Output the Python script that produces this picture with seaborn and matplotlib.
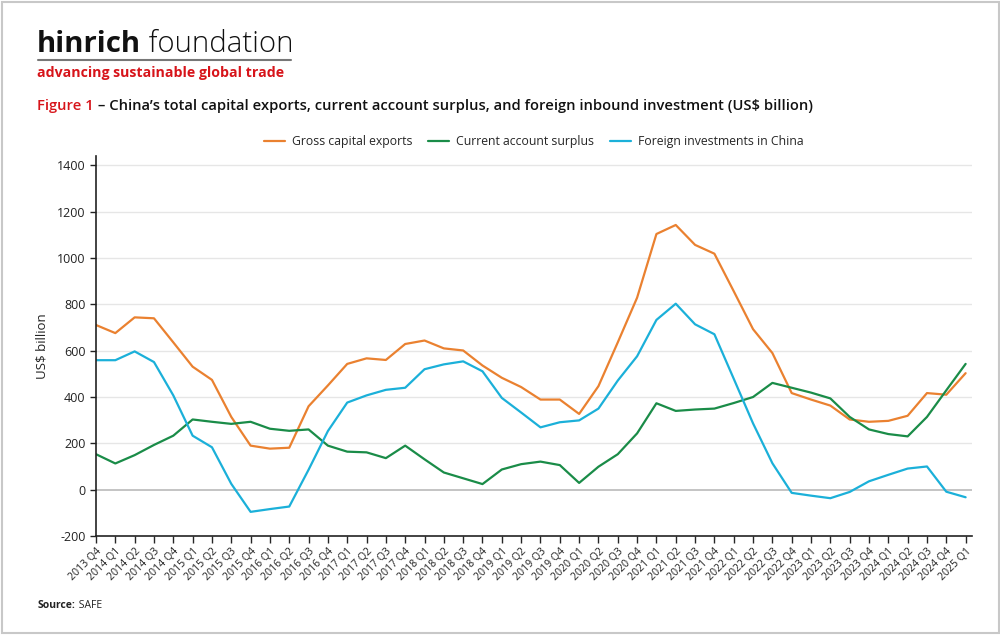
import matplotlib
matplotlib.use("Agg")
import matplotlib.pyplot as plt
import seaborn as sns
import pandas as pd
import numpy as np
from matplotlib.lines import Line2D

quarters = ["2013 Q4"] + [f"{y} Q{q}" for y in range(2014, 2025) for q in range(1, 5)] + ["2025 Q1"]

gross_capital_exports = [711, 676, 744, 740, 636, 531, 474, 314, 190, 177, 181, 360, 450,
                         543, 567, 560, 629, 644, 610, 601, 536, 483, 443, 389, 389, 327,
                         447, 636, 829, 1104, 1143, 1057, 1019, 857, 693, 590, 417, 389,
                         363, 303, 293, 297, 319, 417, 410, 503]
current_account_surplus = [153, 113, 149, 193, 233, 303, 293, 284, 293, 263, 254, 260, 190,
                           164, 161, 136, 190, 131, 74, 49, 24, 87, 110, 121, 106, 29,
                           99, 153, 243, 373, 340, 346, 350, 374, 400, 461, 440, 419,
                           394, 314, 260, 240, 230, 314, 429, 543]
foreign_investments = [559, 559, 597, 551, 407, 233, 183, 25, -96, -84, -73, 86, 253,
                       376, 407, 431, 440, 520, 541, 554, 511, 396, 333, 269, 291, 299,
                       350, 471, 576, 733, 803, 714, 671, 479, 286, 114, -14, -26,
                       -37, -10, 36, 64, 91, 100, -9, -33]

series_names = ["Gross capital exports", "Current account surplus", "Foreign investments in China"]
colors = ["#ea8130", "#1a8c48", "#1bb0d9"]

df = pd.concat([
    pd.DataFrame({"idx": np.arange(len(quarters)), "value": vals, "series": name})
    for name, vals in zip(series_names, [gross_capital_exports, current_account_surplus, foreign_investments])
])

sns.set_theme(style="white")
plt.rcParams["font.family"] = ["Open Sans", "DejaVu Sans"]
plt.rcParams["axes.unicode_minus"] = False

fig = plt.figure(figsize=(10, 6.35), dpi=100)
ax = fig.add_axes([0.096, 0.156, 0.876, 0.598])

sns.lineplot(data=df, x="idx", y="value", hue="series", hue_order=series_names,
             palette=colors, linewidth=1.6, ax=ax, legend=False)

ax.set_xlim(0, len(quarters) - 1 + 0.33)
ax.set_ylim(-200, 1440)
ax.set_yticks(np.arange(-200, 1401, 200))
ax.set_xticks(np.arange(len(quarters)))
ax.set_xticklabels(quarters, rotation=45, ha="right", rotation_mode="anchor", fontsize=7.6, color="#222222")
ax.tick_params(axis="y", labelsize=9, colors="#222222", length=4, width=1, direction="out", left=True)
ax.tick_params(axis="x", length=5, width=1, direction="out", bottom=True, pad=2)

for v in np.arange(200, 1401, 200):
    ax.axhline(v, color="#e6e6e6", linewidth=1, zorder=0)
ax.axhline(0, color="#c4c4c4", linewidth=1.4, zorder=0)

for s in ["top", "right"]:
    ax.spines[s].set_visible(False)
for s in ["left", "bottom"]:
    ax.spines[s].set_color("#222222")
    ax.spines[s].set_linewidth(1.2)

ax.set_xlabel("")
ax.set_ylabel("US$ billion", fontsize=9.5, color="#222222", labelpad=6)

handles = [Line2D([0], [0], color=c, linewidth=1.6) for c in colors]
fig.legend(handles, series_names, loc="center", bbox_to_anchor=(0.534, 0.777), ncol=3,
           frameon=False, fontsize=8.8, handlelength=1.7, columnspacing=1.3, handletextpad=0.6)

# Logo
t1 = fig.text(0.037, 0.918, "hinrich", fontsize=21.2, fontweight="bold", color="#111111", va="baseline")
ax.annotate(" foundation", xy=(1, 0), xycoords=t1, va="bottom", ha="left",
            fontsize=21.2, fontweight="light", color="#111111", annotation_clip=False)
fig.add_artist(Line2D([0.038, 0.291], [0.905, 0.905], color="#777777", linewidth=1.5))
fig.text(0.037, 0.885, "advancing sustainable global trade", fontsize=10.2, fontweight="bold",
         color="#d7141a", va="center")

# Title
t2 = fig.text(0.037, 0.833, "Figure 1", fontsize=10.6, fontweight="semibold", color="#d7141a", va="center")
ax.annotate(" \u2013 China\u2019s total capital exports, current account surplus, and foreign inbound investment (US$ billion)",
            xy=(1, 0.5), xycoords=t2, va="center", ha="left",
            fontsize=10.6, fontweight="semibold", color="#111111", annotation_clip=False)

# Source
t3 = fig.text(0.038, 0.046, "Source:", fontsize=7.5, fontweight="bold", color="#222222", va="center")
ax.annotate(" SAFE", xy=(1, 0.5), xycoords=t3, va="center", ha="left",
            fontsize=7.5, color="#222222", annotation_clip=False)

# Frame
fig.add_artist(plt.Rectangle((0.0015, 0.0025), 0.997, 0.995, transform=fig.transFigure,
                             fill=False, edgecolor="#c8c8c8", linewidth=1.5))

fig.savefig("out.png", dpi=100)
